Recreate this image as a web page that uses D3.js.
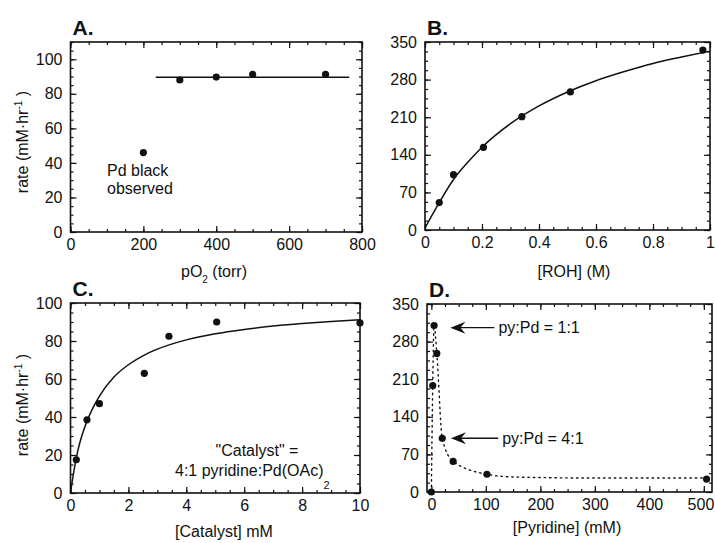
<!DOCTYPE html>
<html>
<head>
<meta charset="utf-8">
<script src="https://cdn.jsdelivr.net/npm/d3@7/dist/d3.min.js"></script>
<style>
  html, body { margin: 0; padding: 0; background: #fff; }
  svg { display: block; }
  text { font-family: "Liberation Sans", Arial, Helvetica, sans-serif; fill: #111; }
</style>
</head>
<body>
<svg id="chart" width="715" height="543"></svg>
<script>
// ---------------- DATA ----------------
// Panel A: rate vs pO2
const aPressure = [200, 300, 400, 500, 700];
const aRate     = [46, 88, 89.7, 91.2, 91.2];
const aFitX     = [234, 765];
const aFitY     = [89.6, 89.6];
const aXTicks   = [0, 200, 400, 600, 800];
const aYTicks   = [0, 20, 40, 60, 80, 100];

// Panel B: rate vs [ROH]
const bROH      = [0.05, 0.1, 0.205, 0.34, 0.51, 0.975];
const bRate     = [51, 103, 154, 211, 257, 335];
const bFitX     = [0, 0.02, 0.05, 0.1, 0.15, 0.2, 0.3, 0.4, 0.5, 0.6, 0.7, 0.8, 0.9, 1.0];
const bFitY     = [4, 23, 51, 94, 126, 154, 198, 231, 257, 278, 295, 310, 322, 333];
const bXTicks   = [0, 0.2, 0.4, 0.6, 0.8, 1];
const bYTicks   = [0, 70, 140, 210, 280, 350];

// Panel C: rate vs [Catalyst]
const cCat      = [0.2, 0.57, 1.0, 2.55, 3.4, 5.05, 10];
const cRate     = [17.5, 38.5, 47, 63, 82.5, 90, 89.5];
const cFitX     = [0, 0.1, 0.25, 0.5, 0.75, 1, 1.5, 2, 2.5, 3, 4, 5, 6, 7, 8, 9, 10];
const cFitY     = [0, 10, 22, 35, 44, 51, 61, 67.5, 72.2, 75.7, 80.6, 83.8, 86.1, 87.9, 89.2, 90.3, 91.2];
const cXTicks   = [0, 2, 4, 6, 8, 10];
const cYTicks   = [0, 20, 40, 60, 80, 100];

// Panel D: rate vs [Pyridine]
const dPy       = [0, 2.5, 5, 10, 20, 40, 102, 505];
const dRate     = [0, 198, 310, 258, 100, 57, 33, 24];
const dFitX     = [0, 2.5, 5, 10, 20, 40, 102, 150, 300, 505];
const dFitY     = [0, 198, 310, 258, 100, 57, 33, 28, 26, 26];
const dXTicks   = [0, 100, 200, 300, 400, 500];
const dYTicks   = [0, 70, 140, 210, 280, 350];
const dNotes    = [
  { label: "py:Pd = 1:1", tip: [35, 306], text: [123, 306] },
  { label: "py:Pd = 4:1", tip: [36, 100], text: [130, 100] }
];

// ---------------- DRAW ----------------
const svg = d3.select("#chart");
const FS = 16;

function panel(cfg) {
  const g = svg.append("g");
  const x = d3.scaleLinear().domain(cfg.xDomain).range([cfg.left, cfg.right]);
  const y = d3.scaleLinear().domain(cfg.yDomain).range([cfg.bottom, cfg.top]);

  const xMinor = d3.range(cfg.xDomain[0] < 0 ? 0 : cfg.xDomain[0], cfg.xDomain[1] + 1e-9, cfg.xMinorStep)
      .filter(v => v >= cfg.xDomain[0] && v <= cfg.xDomain[1]);
  const yMinor = d3.range(cfg.yDomain[0], cfg.yDomain[1] + 1e-9, cfg.yMinorStep);

  function styleAxis(sel) {
    sel.select(".domain").remove();
    sel.selectAll("line").attr("stroke", "#111").attr("stroke-width", 1.2);
    sel.selectAll("text").style("font-size", FS + "px")
      .style("font-family", '"Liberation Sans", Arial, Helvetica, sans-serif').attr("fill", "#111");
  }

  // minor ticks
  g.append("g").attr("transform", `translate(0,${cfg.bottom})`)
    .call(d3.axisBottom(x).tickValues(xMinor).tickSize(-3).tickFormat("")).call(styleAxis);
  g.append("g").attr("transform", `translate(0,${cfg.top})`)
    .call(d3.axisTop(x).tickValues(xMinor).tickSize(-3).tickFormat("")).call(styleAxis);
  g.append("g").attr("transform", `translate(${cfg.left},0)`)
    .call(d3.axisLeft(y).tickValues(yMinor).tickSize(-3).tickFormat("")).call(styleAxis);
  g.append("g").attr("transform", `translate(${cfg.right},0)`)
    .call(d3.axisRight(y).tickValues(yMinor).tickSize(-3).tickFormat("")).call(styleAxis);

  // major ticks with labels
  const xAx = g.append("g").attr("transform", `translate(0,${cfg.bottom})`)
    .call(d3.axisBottom(x).tickValues(cfg.xTicks).tickSize(-6).tickPadding(7).tickFormat(d3.format("~g")))
    .call(styleAxis);
  if (cfg.lastLabelEnd) {
    xAx.selectAll(".tick").filter(d => d === cfg.xTicks[cfg.xTicks.length - 1])
      .select("text").attr("text-anchor", "end").attr("x", cfg.lastLabelEnd);
  }
  g.append("g").attr("transform", `translate(0,${cfg.top})`)
    .call(d3.axisTop(x).tickValues(cfg.xTicks).tickSize(-6).tickFormat("")).call(styleAxis);
  g.append("g").attr("transform", `translate(${cfg.left},0)`)
    .call(d3.axisLeft(y).tickValues(cfg.yTicks).tickSize(-6).tickPadding(8).tickFormat(d3.format("~g")))
    .call(styleAxis);
  g.append("g").attr("transform", `translate(${cfg.right},0)`)
    .call(d3.axisRight(y).tickValues(cfg.yTicks).tickSize(-6).tickFormat("")).call(styleAxis);

  // frame
  g.append("rect")
    .attr("x", cfg.left).attr("y", cfg.top)
    .attr("width", cfg.right - cfg.left).attr("height", cfg.bottom - cfg.top)
    .attr("fill", "none").attr("stroke", "#111").attr("stroke-width", 1.6);

  // title
  g.append("text").attr("x", cfg.left + 2).attr("y", cfg.top - 7)
    .style("font-size", "21px").style("font-weight", "bold").text(cfg.title);

  return { g, x, y };
}

function dots(p, xs, ys) {
  p.g.append("g").selectAll("circle").data(xs).join("circle")
    .attr("cx", (d) => p.x(d)).attr("cy", (d, i) => p.y(ys[i]))
    .attr("r", 3.6).attr("fill", "#111");
}

function curve(p, xs, ys, dashed, curveType) {
  const line = d3.line().x(d => p.x(d[0])).y(d => p.y(d[1])).curve(curveType || d3.curveMonotoneX);
  p.g.append("path").datum(xs.map((v, i) => [v, ys[i]]))
    .attr("d", line).attr("fill", "none").attr("stroke", "#111")
    .attr("stroke-width", dashed ? 1.4 : 1.5)
    .attr("stroke-dasharray", dashed ? "1.4 4" : null)
    .attr("stroke-linecap", dashed ? "round" : "butt");
}

function yLabel(cx, cy) {
  const t = svg.append("text")
    .attr("transform", `translate(${cx},${cy}) rotate(-90)`)
    .attr("text-anchor", "middle").style("font-size", FS + "px");
  t.append("tspan").text("rate (mM·hr");
  t.append("tspan").attr("dy", -6).style("font-size", "10px").text("-1");
  t.append("tspan").attr("dy", 6).text(" )");
}

// ---- Panel A ----
const A = panel({ title: "A.", left: 70.5, right: 362, top: 42, bottom: 232,
  xDomain: [0, 800], yDomain: [0, 110], xTicks: aXTicks, yTicks: aYTicks,
  xMinorStep: 50, yMinorStep: 5 });
curve(A, aFitX, aFitY, false, d3.curveLinear);
dots(A, aPressure, aRate);
A.g.append("text").attr("x", 107).attr("y", 176).style("font-size", FS + "px").text("Pd black");
A.g.append("text").attr("x", 107).attr("y", 194).style("font-size", FS + "px").text("observed");
yLabel(28, 142);
{
  const t = svg.append("text").attr("x", 214).attr("y", 277).attr("text-anchor", "middle").style("font-size", FS + "px");
  t.append("tspan").text("pO");
  t.append("tspan").attr("dy", 6).style("font-size", "10px").text("2");
  t.append("tspan").attr("dy", -6).text(" (torr)");
}

// ---- Panel B ----
const B = panel({ title: "B.", left: 425, right: 710, top: 42, bottom: 230,
  xDomain: [0, 1], yDomain: [0, 350], xTicks: bXTicks, yTicks: bYTicks,
  xMinorStep: 0.05, yMinorStep: 17.5 });
curve(B, bFitX, bFitY, false);
dots(B, bROH, bRate);
svg.append("text").attr("x", 574).attr("y", 277).attr("text-anchor", "middle")
  .style("font-size", FS + "px").text("[ROH] (M)");

// ---- Panel C ----
const C = panel({ title: "C.", left: 70.5, right: 360, top: 303, bottom: 493,
  xDomain: [0, 10], yDomain: [0, 100], xTicks: cXTicks, yTicks: cYTicks,
  xMinorStep: 0.5, yMinorStep: 5 });
curve(C, cFitX, cFitY, false);
dots(C, cCat, cRate);
C.g.append("text").attr("x", 257).attr("y", 456).attr("text-anchor", "middle")
  .style("font-size", FS + "px").text("\"Catalyst\" =");
{
  const t = C.g.append("text").attr("x", 175).attr("y", 476).style("font-size", FS + "px");
  t.append("tspan").text("4:1 pyridine:Pd(OAc)");
  t.append("tspan").attr("dy", 13).style("font-size", "11px").text("2");
}
yLabel(28, 405);
svg.append("text").attr("x", 224).attr("y", 537).attr("text-anchor", "middle")
  .style("font-size", FS + "px").text("[Catalyst] mM");

// ---- Panel D ----
const D = panel({ title: "D.", left: 427, right: 712, top: 304, bottom: 492,
  xDomain: [-8, 515], yDomain: [0, 350], xTicks: dXTicks, yTicks: dYTicks,
  xMinorStep: 25, yMinorStep: 17.5, lastLabelEnd: 10 });
curve(D, dFitX, dFitY, true);
dots(D, dPy, dRate);
dNotes.forEach(n => {
  const tx = D.x(n.tip[0]), ty = D.y(n.tip[1]);
  const lx = D.x(n.text[0]);
  D.g.append("line").attr("x1", tx + 8).attr("y1", ty).attr("x2", lx - 4).attr("y2", ty)
    .attr("stroke", "#111").attr("stroke-width", 1.4);
  D.g.append("path")
    .attr("d", `M${tx},${ty} L${tx + 15},${ty - 6} L${tx + 10},${ty} L${tx + 15},${ty + 6} Z`)
    .attr("fill", "#111");
  D.g.append("text").attr("x", lx).attr("y", ty + 5.5).style("font-size", FS + "px").text(n.label);
});
svg.append("text").attr("x", 567).attr("y", 533).attr("text-anchor", "middle")
  .style("font-size", FS + "px").text("[Pyridine] (mM)");
</script>
</body>
</html>
